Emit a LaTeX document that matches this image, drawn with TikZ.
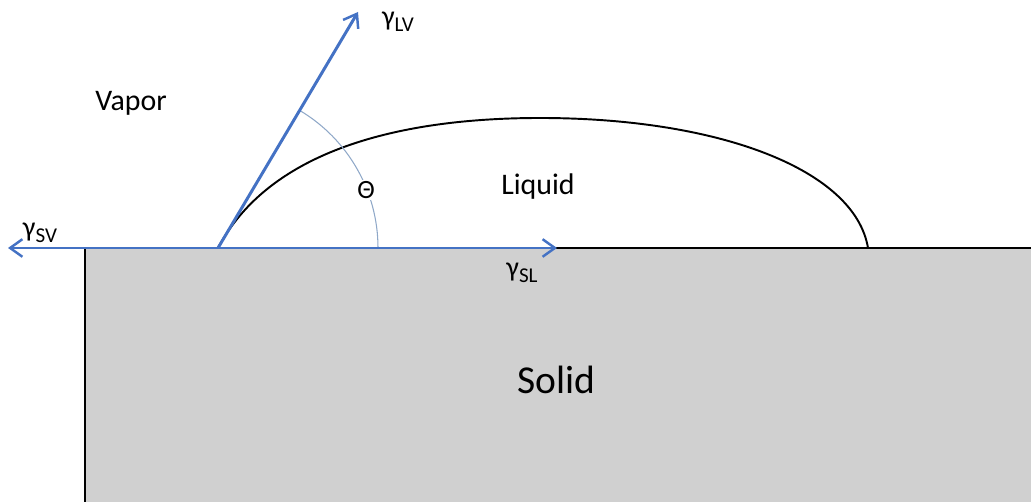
\documentclass[tikz,border=0pt]{standalone}
\usepackage{fontspec}
\setmainfont{Carlito}
\usetikzlibrary{arrows.meta}
\definecolor{vecblue}{HTML}{4472C4}
\definecolor{arcblue}{HTML}{8FA8C8}
\definecolor{solidgray}{HTML}{D0D0D0}
\newcommand{\gam}[1]{γ\raisebox{-0.45ex}{\fontsize{12}{13}\selectfont #1}}

\begin{document}
\begin{tikzpicture}[x=0.02cm,y=-0.02cm,
    vec/.style={vecblue,line width=1.7pt,-{Straight Barb[length=7pt,width=10pt,line width=1.4pt]}},
    lbl/.style={inner sep=0pt,font=\fontsize{17}{20}\selectfont}]
        \useasboundingbox (0,0) rectangle (1031,502);
        % solid block
        \fill[solidgray] (85,248) rectangle (1031,502);
        \draw[line width=1.1pt] (85,502) -- (85,248) -- (1031,248);
        % drop
        \coordinate (O) at (218,248);
        \coordinate (R) at (868,248);
        \draw[line width=1.1pt] (O) .. controls (270,150) and (400,118) .. (540,118)
        .. controls (720,118) and (855,170) .. (R);
        % angle
        \draw[arcblue,line width=0.6pt] (378,248) arc[start angle=0,end angle=-59.3,radius=160];
        % forces
        \coordinate (LV) at (358,12);
        \coordinate (SV) at (8,248);
        \coordinate (SL) at (557,248);
        \draw[vec] (O) -- (SL);
        \draw[vec] (O) -- (SV);
        \draw[vec] (O) -- (LV);
        \node[lbl,font=\fontsize{16}{18}\selectfont] (lv) at (398,22) {\gam{LV}};
        \node[lbl,font=\fontsize{16}{18}\selectfont] (sv) at (40,233) {\gam{SV}};
        \node[lbl,font=\fontsize{16}{18}\selectfont] (sl) at (522,273) {\gam{SL}};
        \node[lbl,fill=white,inner sep=0.5pt,font=\fontsize{15}{17}\selectfont] (th) at (366,190) {Θ};
        \node[lbl] (vapor) at (131,103) {Vapor};
        \node[lbl] (liquid) at (538,187) {Liquid};
        \node[lbl,font=\fontsize{22.5}{26}\selectfont] (solid) at (556,380) {Solid};
        \end{tikzpicture}
\end{document}
